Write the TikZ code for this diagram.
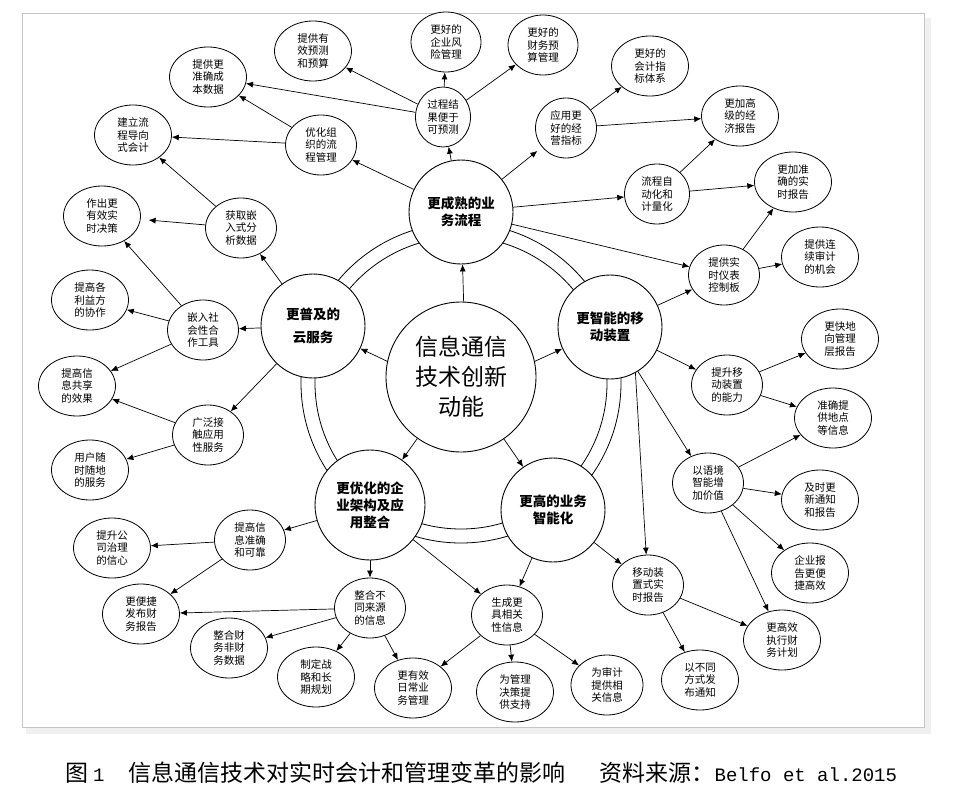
\documentclass[tikz,border=0pt]{standalone}
\usepackage{fontspec}
\newfontfamily\cjk{Noto Sans CJK SC}
\newfontfamily\mono{Liberation Mono}
\usetikzlibrary{shapes.geometric,arrows.meta}

\begin{document}
\begin{tikzpicture}[x=1pt, y=-1pt,
    core/.style={circle, draw, line width=0.9pt, fill=white, minimum size=150pt, inner sep=0pt, align=center, font=\cjk\fontsize{23}{30}\selectfont},
    topic/.style={circle, draw, line width=0.9pt, fill=white, minimum size=104pt, inner sep=0pt, align=center, font=\cjk\bfseries\fontsize{13.5}{17}\selectfont},
    sub/.style={ellipse, draw, line width=0.8pt, fill=white, minimum width=71pt, minimum height=60pt, inner sep=0pt, align=center, font=\cjk\fontsize{10.5}{12.5}\selectfont},
    leaf/.style={sub, minimum width=77pt},
    arr/.style={-{Latex[length=7pt,width=6pt]}, line width=0.7pt}]
    \useasboundingbox (0,0) rectangle (964,795);

    % Frame with a light shadow
    \fill[gray!12] (26,727) rectangle (931,734);
    \fill[gray!12] (924,18) rectangle (931,734);
    \draw[gray!45, line width=0.8pt] (22,13) rectangle (924,727);

    % Double ring joining the five topics
    \draw[line width=0.8pt] (461,383) circle[radius=146pt];
    \draw[line width=0.8pt] (461,383) circle[radius=160pt];

    % Central node and the five topics
    \node[core] (core) at (461,377) {信息通信\\技术创新\\动能};
    \node[topic] (biz) at (461,212) {更成熟的业\\务流程};
    \node[topic] (cloud) at (313,326) {更普及的\\[6pt]云服务};
    \node[topic] (mob) at (610,327) {更智能的移\\动装置};
    \node[topic, minimum size=110pt] (arch) at (370,505) {更优化的企\\业架构及应\\用整合};
    \node[topic] (intel) at (553,510) {更高的业务\\智能化};

    % Second level
    \node[sub, minimum width=55pt] (proc) at (443,117) {过程结\\果便于\\可预测};
    \node[sub] (org) at (321,145) {优化组\\织的流\\程管理};
    \node[sub] (embed) at (241,228) {获取嵌\\入式分\\析数据};
    \node[sub] (social) at (203,330) {嵌入社\\会性合\\作工具};
    \node[sub] (access) at (208,435) {广泛接\\触应用\\性服务};
    \node[sub, minimum width=61pt] (metric) at (566,128) {应用更\\好的经\\营指标};
    \node[sub, minimum width=65pt] (auto) at (657,194) {流程自\\动化和\\计量化};
    \node[sub] (dash) at (724,275) {提供实\\时仪表\\控制板};
    \node[sub] (mobcap) at (727,385) {提升移\\动装置\\的能力};
    \node[sub] (context) at (708,483) {以语境\\智能增\\加价值};
    \node[sub] (mrep) at (648,585) {移动装\\置式实\\时报告};
    \node[sub] (relev) at (507,615) {生成更\\具相关\\性信息};
    \node[sub] (integ) at (370,608) {整合不\\同来源\\的信息};
    \node[sub] (reliab) at (250,540) {提高信\\息准确\\和可靠};

    % Outcomes
    \node[leaf] (forecast) at (313,51) {提供有\\效预测\\和预算};
    \node[leaf] (cost) at (208,77) {提供更\\准确成\\本数据};
    \node[leaf] (pacct) at (133,135) {建立流\\程导向\\式会计};
    \node[leaf] (decide) at (102,216) {作出更\\有效实\\时决策};
    \node[leaf] (collab) at (90,300) {提高各\\利益方\\的协作};
    \node[leaf] (share) at (77,386) {提高信\\息共享\\的效果};
    \node[leaf] (anywhere) at (90,470) {用户随\\时随地\\的服务};
    \node[leaf, minimum width=70pt] (risk) at (446,42) {更好的\\企业风\\险管理};
    \node[leaf, minimum width=70pt] (budget) at (543,45) {更好的\\财务预\\算管理};
    \node[leaf] (acctsys) at (650,66) {更好的\\会计指\\标体系};
    \node[leaf] (econ) at (740,116) {更加高\\级的经\\济报告};
    \node[leaf] (accrep) at (793,182) {更加准\\确的实\\时报告};
    \node[leaf] (audit) at (820,257) {提供连\\续审计\\的机会};
    \node[leaf] (fastrep) at (840,339) {更快地\\向管理\\层报告};
    \node[leaf] (locinfo) at (833,418) {准确提\\供地点\\等信息};
    \node[leaf] (notify) at (820,500) {及时更\\新通知\\和报告};
    \node[leaf] (easyrep) at (810,573) {企业报\\告更便\\捷高效};
    \node[leaf] (plan) at (782,640) {更高效\\执行财\\务计划};
    \node[leaf] (channel) at (700,680) {以不同\\方式发\\布通知};
    \node[leaf, minimum width=72pt] (audinfo) at (607,685) {为审计\\提供相\\关信息};
    \node[leaf] (support) at (515,692) {为管理\\决策提\\供支持};
    \node[leaf] (daily) at (413,688) {更有效\\日常业\\务管理};
    \node[leaf] (strategy) at (316,677) {制定战\\略和长\\期规划};
    \node[leaf] (finmix) at (229,648) {整合财\\务非财\\务数据};
    \node[leaf] (pubrep) at (141,614) {更便捷\\发布财\\务报告};
    \node[leaf] (govern) at (112,548) {提升公\\司治理\\的信心};

    % Centre to topics
    \draw[arr] (core.88) -- (biz);
    \draw[arr] (core.168) -- (cloud);
    \draw[arr] (core.12) -- (mob);
    \draw[arr] (core) -- (arch);
    \draw[arr] (core) -- (intel);

    % Business processes
    \draw[arr] (biz) -- (proc);
    \draw[arr] (biz) -- (org);
    \draw[arr, shorten >=6pt] (biz) -- (metric);
    \draw[arr] (biz) -- (auto);
    \draw[arr] (biz) -- (dash);
    \draw[arr] (proc) -- (forecast);
    \draw[arr] (proc) -- (risk);
    \draw[arr] (proc) -- (budget);
    \draw[arr] (proc) -- (cost);
    \draw[arr] (org) -- (cost);
    \draw[arr] (org) -- (pacct);
    \draw[arr] (metric) -- (acctsys);
    \draw[arr] (metric) -- (econ);
    \draw[arr] (auto) -- (econ);
    \draw[arr] (auto) -- (accrep);

    % Cloud services
    \draw[arr] (cloud) -- (embed);
    \draw[arr] (cloud) -- (social);
    \draw[arr] (cloud) -- (access);
    \draw[arr] (embed) -- (pacct);
    \draw[arr, shorten >=8pt] (embed) -- (decide);
    \draw[arr] (social) -- (decide);
    \draw[arr] (social) -- (collab);
    \draw[arr] (social) -- (share);
    \draw[arr] (access) -- (share);
    \draw[arr] (access) -- (anywhere);

    % Mobile devices
    \draw[arr] (mob) -- (dash);
    \draw[arr] (mob) -- (mobcap);
    \draw[arr] (mob) -- (context);
    \draw[arr] (mob.-61) -- (mrep);
    \draw[arr] (dash) -- (audit);
    \draw[arr] (dash) -- (accrep);
    \draw[arr] (mobcap) -- (fastrep);
    \draw[arr] (mobcap) -- (locinfo);
    \draw[arr] (context) -- (locinfo);
    \draw[arr] (context) -- (notify);
    \draw[arr] (context) -- (easyrep);
    \draw[arr] (context) -- (plan);
    \draw[arr] (mrep) -- (plan);
    \draw[arr] (mrep) -- (channel);

    % Business intelligence
    \draw[arr] (intel) -- (mrep);
    \draw[arr] (intel) -- (relev);
    \draw[arr] (relev) -- (daily);
    \draw[arr] (relev) -- (support);
    \draw[arr] (relev) -- (audinfo);

    % Architecture and integration
    \draw[arr] (arch) -- (integ);
    \draw[arr] (arch) -- (relev);
    \draw[arr] (arch) -- (reliab);
    \draw[arr] (reliab) -- (govern);
    \draw[arr] (reliab) -- (pubrep);
    \draw[arr] (integ) -- (pubrep);
    \draw[arr] (integ) -- (finmix);
    \draw[arr] (integ) -- (strategy);
    \draw[arr] (integ) -- (daily);

    % Caption
    \node[anchor=west, inner sep=0pt, font=\cjk\fontsize{23}{26}\selectfont] (caption) at (65,773)
        {图\hspace{5pt}{\mono\fontsize{19}{26}\selectfont 1}\hspace{24pt}信息通信技术对实时会计和管理变革的影响\hspace{34pt}资料来源：{\mono\fontsize{19}{26}\selectfont Belfo et al.2015}};
\end{tikzpicture}
\end{document}
